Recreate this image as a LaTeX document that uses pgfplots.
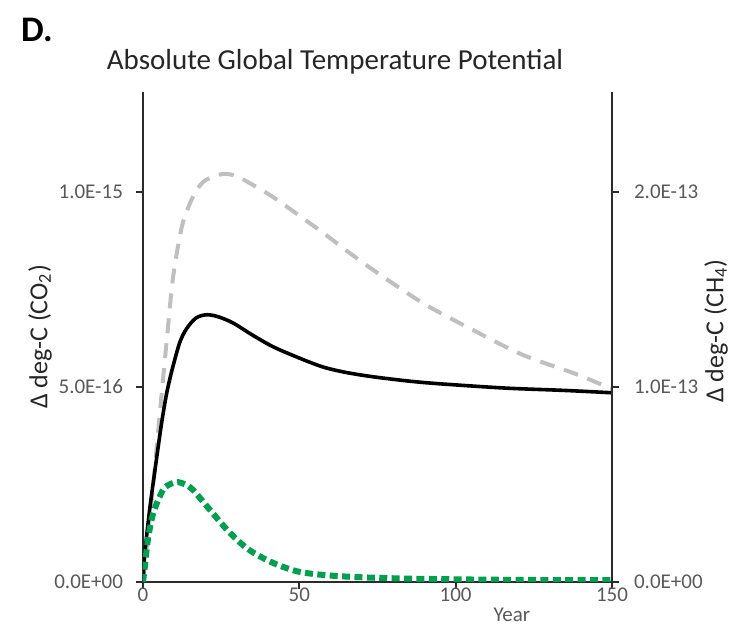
\documentclass[border=0pt]{standalone}
\usepackage{fontspec}
\setmainfont{Carlito}
\usepackage{pgfplots}
\pgfplotsset{compat=1.18}
\definecolor{CurveGray}{HTML}{BFBFBF}
\definecolor{CurveGreen}{HTML}{00A04E}
\definecolor{TickGray}{HTML}{595959}
\definecolor{AxisLine}{HTML}{2B2B2B}
\begin{document}
\begin{tikzpicture}
% page frame: 751 x 627 px at 0.5pt per px
\useasboundingbox (0,0) rectangle (375.5pt,313.5pt);

\pgfplotsset{agtp/.style={
  at={(71.5pt,22.5pt)}, anchor=south west,
  width=234.5pt, height=245pt, scale only axis,
  xmin=0, xmax=150, ymin=0, ymax=12.56,
  axis line style={AxisLine,line width=1pt},
  tick style={AxisLine,line width=0.9pt},
  major tick length=3.5pt,
  tick align=outside,
  tick label style={font=\fontsize{10.5}{12}\selectfont,color=TickGray},
}}

\begin{axis}[agtp,
  axis x line*=bottom, axis y line*=left,
  xtick={0,50,100,150}, xticklabels={0,50,100,150},
  xticklabel style={yshift=4pt},
  ytick={0,5,10}, yticklabels={0.0E+00,5.0E-16,1.0E-15},
  yticklabel style={xshift=-3pt},
]
% values in units of 1E-16 deg-C
\addplot[CurveGray,line width=2pt,dash pattern=on 7.5pt off 5pt,smooth] coordinates {
(0,0) (1,0.7) (2,1.5) (3.3,2.5) (5,4.0) (7.6,6.2) (9.6,7.8) (12.4,9.1)
(15,9.7) (17.2,10.05) (20,10.3) (25.6,10.46) (30,10.4) (34,10.23)
(40,9.95) (46,9.62) (57.6,8.95) (65,8.5) (73.6,8.0) (89.5,7.15)
(105.5,6.46) (121.5,5.82) (137.5,5.36) (150,4.95)};

\addplot[black,line width=1.8pt,smooth] coordinates {
(0,0) (0.6,0.74) (2.2,1.9) (4.4,3.2) (6,4.1) (7.6,4.85) (9.5,5.5)
(11.8,6.15) (14,6.5) (17,6.77) (20.4,6.85) (24,6.8) (28.8,6.64)
(35,6.33) (41.6,6.03) (50,5.74) (57.6,5.51) (65,5.37) (73.6,5.26)
(85,5.15) (95,5.08) (116,4.97) (135,4.91) (150,4.85)};

\addplot[CurveGreen,line width=3pt,dash pattern=on 4pt off 2.2pt,smooth] coordinates {
(0,0) (0.6,0.4) (1.6,1.1) (3.3,1.77) (6.4,2.36) (9,2.52) (11.2,2.56)
(13.5,2.5) (16,2.36) (21.4,1.85) (27.8,1.26) (34,0.82) (41.6,0.49)
(50,0.26) (60.8,0.16) (73.6,0.11) (89.5,0.08) (110,0.06) (130,0.05) (150,0.05)};
\end{axis}

\begin{axis}[agtp,
  axis x line=none, axis y line*=right,
  ytick={0,5,10}, yticklabels={0.0E+00,1.0E-13,2.0E-13},
  yticklabel style={xshift=4pt},
]
\addplot[draw=none] coordinates {(0,0) (150,0)};
\end{axis}

\node[font=\fontsize{18}{20}\selectfont\bfseries] at (18.5pt,298.5pt) {D.};
\node[font=\fontsize{14.5}{16}\selectfont,color=black!85] at (167.5pt,282.5pt) {Absolute Global Temperature Potential};
\node[font=\fontsize{13}{15}\selectfont,color=black!85,rotate=90] at (20pt,145pt) {Δ deg-C (CO\textsubscript{2})};
\node[font=\fontsize{13}{15}\selectfont,color=black!85,rotate=90] at (358pt,148pt) {Δ deg-C (CH\textsubscript{4})};
\node[font=\fontsize{10.5}{12}\selectfont,color=TickGray] at (256pt,6pt) {Year};
\end{tikzpicture}
\end{document}
